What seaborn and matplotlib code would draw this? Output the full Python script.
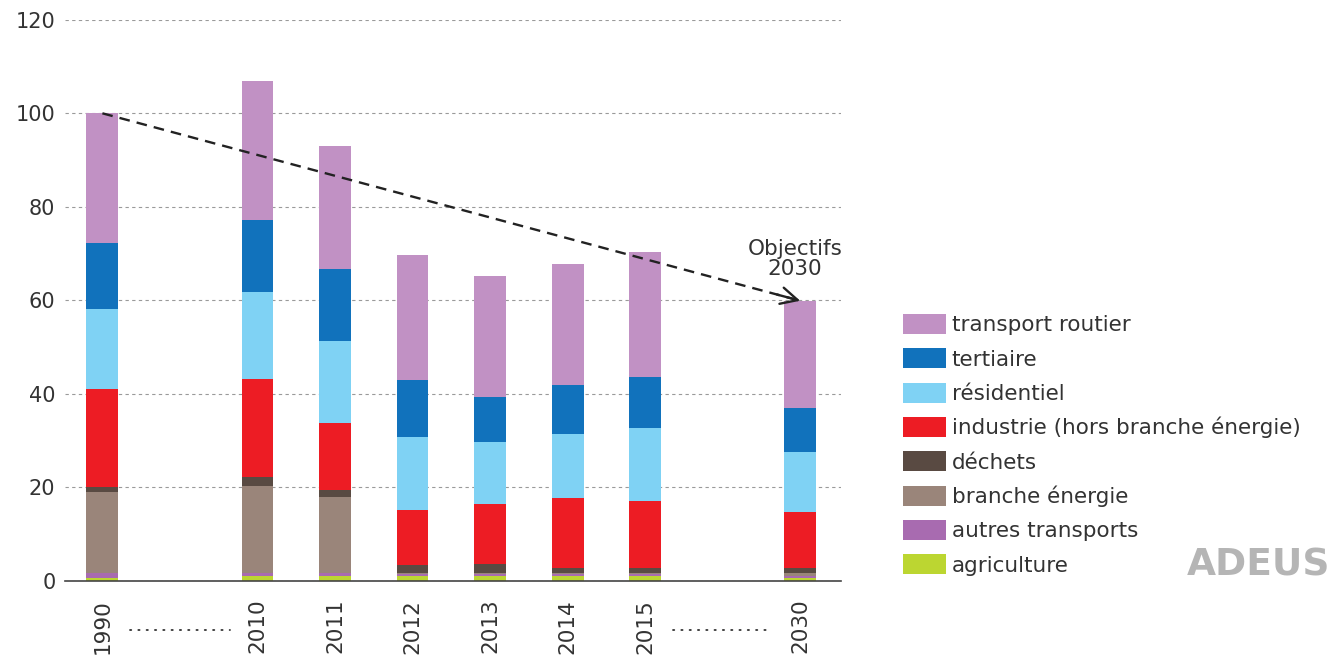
import numpy as np
import pandas as pd
import matplotlib
matplotlib.use("Agg")
import matplotlib.pyplot as plt
import matplotlib.transforms as mtransforms
from matplotlib.patches import Patch
import seaborn as sns

# ---- data ----
years = ["1990", "2010", "2011", "2012", "2013", "2014", "2015", "2030"]
slots = [0, 2, 3, 4, 5, 6, 7, 9]          # gaps where the "......" sit
gap_slots = [1, 8]

# stacking order: bottom -> top
sectors = ["agriculture", "autres transports", "branche énergie", "déchets",
           "industrie (hors branche énergie)", "résidentiel", "tertiaire",
           "transport routier"]

agriculture = [0.5, 1.1, 1.1, 1.1, 1.1, 1.1, 1.1, 0.5]
autres_transports = [1.2, 0.5, 0.5, 0.4, 0.4, 0.4, 0.4, 0.6]
branche_energie = [17.2, 18.7, 16.3, 0.2, 0.2, 0.2, 0.2, 0.5]
dechets = [1.1, 2.0, 1.6, 1.7, 1.8, 1.1, 1.1, 1.2]
industrie = [21.1, 20.8, 14.3, 11.8, 13.0, 14.9, 14.3, 11.9]
residentiel = [17.1, 18.6, 17.4, 15.6, 13.1, 13.7, 15.5, 12.9]
tertiaire = [14.0, 15.4, 15.4, 12.2, 9.7, 10.4, 11.1, 9.3]
transport_routier = [27.8, 29.8, 26.5, 26.6, 26.0, 26.0, 26.6, 23.0]

colors = {
    "agriculture": "#BCD631",
    "autres transports": "#A86BB0",
    "branche énergie": "#9A857A",
    "déchets": "#594A42",
    "industrie (hors branche énergie)": "#ED1C24",
    "résidentiel": "#7FD2F4",
    "tertiaire": "#1172BC",
    "transport routier": "#C191C4",
}

df = pd.DataFrame({
    "slot": slots,
    "agriculture": agriculture,
    "autres transports": autres_transports,
    "branche énergie": branche_energie,
    "déchets": dechets,
    "industrie (hors branche énergie)": industrie,
    "résidentiel": residentiel,
    "tertiaire": tertiaire,
    "transport routier": transport_routier,
})
cum = df[sectors].cumsum(axis=1)
totals = cum[sectors[-1]]

sns.set_style("white")
plt.rcParams["font.family"] = ["DejaVu Sans"]
text_col = "#333333"

fig = plt.figure(figsize=(13.3, 6.6), dpi=100)
ax = fig.add_axes([0.049, 0.12, 0.583, 0.85])

# draw cumulative heights from the top layer down, so each layer covers the one above
for s in reversed(sectors):
    sns.barplot(x=df["slot"], y=cum[s], color=colors[s], saturation=1,
                width=0.41, native_scale=True, errorbar=None,
                linewidth=0, ax=ax, zorder=2)

ax.set_xlim(-0.48, 9.52)
ax.set_ylim(0, 120)
ax.set_yticks(range(0, 121, 20))
ax.set_xticks(slots)
ax.set_xticklabels(years, rotation=90)
ax.set_xlabel("")
ax.set_ylabel("")
ax.tick_params(axis="y", length=0, pad=7, labelsize=15, colors=text_col)
ax.tick_params(axis="x", length=0, pad=13, labelsize=15.5, colors=text_col)
for lab in ax.get_xticklabels():
    lab.set_verticalalignment("top")

ax.grid(axis="y", color="#9a9a9a", linestyle=(0, (3, 3)), linewidth=0.8)
ax.grid(axis="x", visible=False)
ax.set_axisbelow(True)
for side in ["left", "right", "top"]:
    ax.spines[side].set_visible(False)
ax.spines["bottom"].set_color("#444444")
ax.spines["bottom"].set_linewidth(1.2)

# dotted fillers under the axis where years are skipped
trans = mtransforms.blended_transform_factory(ax.transData, ax.transAxes)
for g in gap_slots:
    ax.plot([g - 0.64, g + 0.64], [-0.087, -0.087], transform=trans,
            clip_on=False, color=text_col, linewidth=1.3,
            linestyle=(0, (0.7, 3.9)), dash_capstyle="round")

# 1990 -> 2030 objective arrow
x0, x1 = slots[0], slots[-1]
y0, y1 = totals.iloc[0], totals.iloc[-1]
ax.plot([x0, x1], [y0, y1], color="#222222", linestyle=(0, (4.5, 3)),
        linewidth=1.7, zorder=4)
ax.annotate("", xy=(x1, y1), xytext=(x1 - 0.3, y1 + (y0 - y1) * 0.3 / (x1 - x0)),
            arrowprops=dict(arrowstyle="->", color="#222222", lw=1.7,
                            mutation_scale=30, shrinkA=0, shrinkB=0),
            zorder=5)
ax.text(x1 - 0.07, y1 + 4.6, "Objectifs\n2030", ha="center", va="bottom",
        fontsize=15.5, color=text_col, linespacing=1.0)

# legend, top layer first
handles = [Patch(facecolor=colors[s], edgecolor="none", label=s)
           for s in reversed(sectors)]
fig.legend(handles=handles, loc="upper left", bbox_to_anchor=(0.679, 0.524),
           frameon=False, fontsize=15.5, handlelength=2.0, handleheight=1.05,
           handletextpad=0.25, labelspacing=0.6, borderpad=0, borderaxespad=0,
           labelcolor=text_col)

# ADEUS mark
fig.text(0.946, 0.143, "ADEUS", fontsize=27, fontweight="bold",
         color="#b5b5b5", ha="center", va="center")

fig.savefig("out.png", dpi=100)
